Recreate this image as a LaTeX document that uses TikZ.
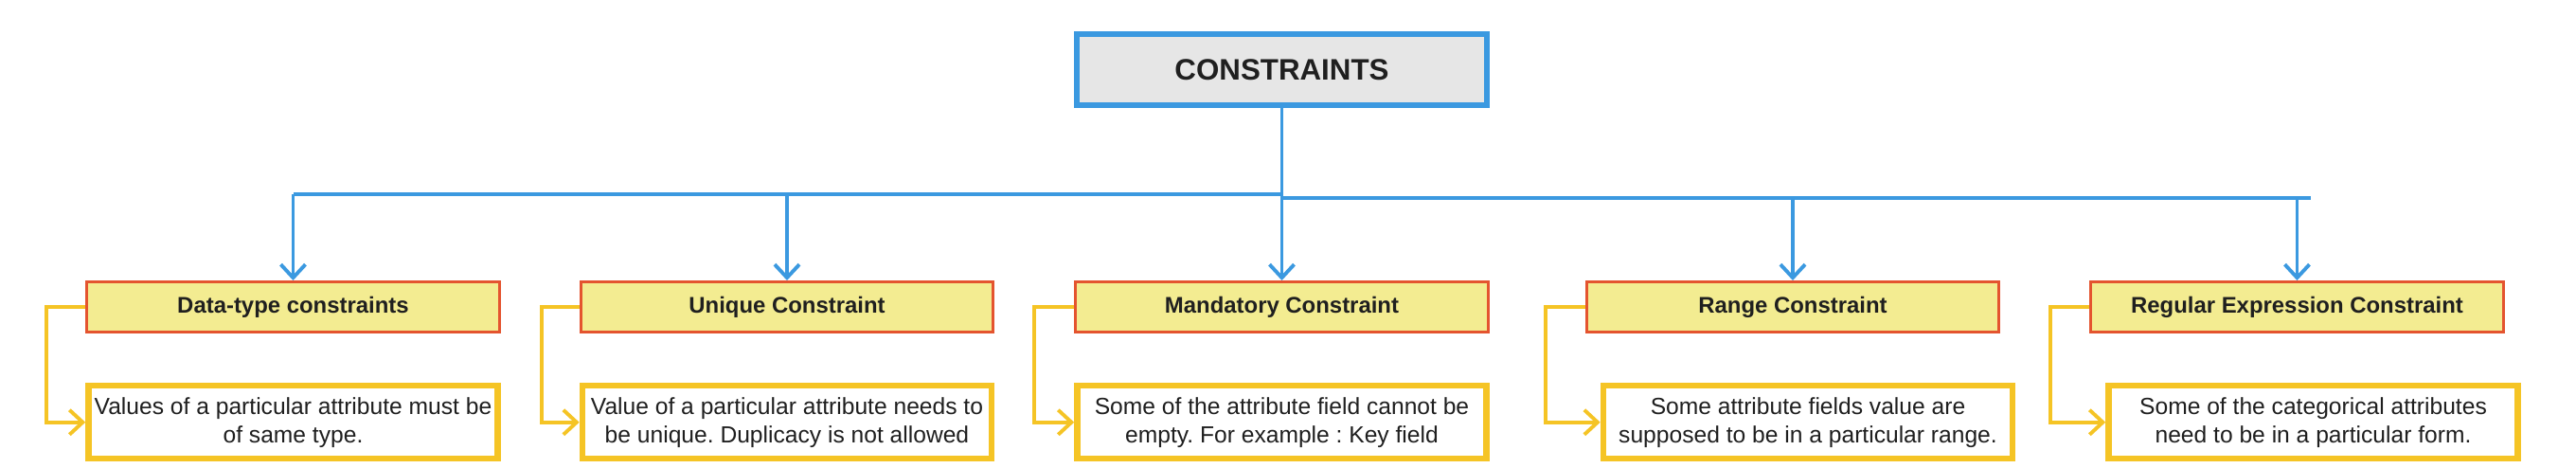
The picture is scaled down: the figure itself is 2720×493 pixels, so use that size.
\documentclass[tikz,border=0pt]{standalone}
\usepackage{fontspec}
\setmainfont{Liberation Sans}
\usepackage{tikz}
\usetikzlibrary{arrows.meta,positioning}
\definecolor{conblue}{HTML}{3B99E0}
\definecolor{congrey}{HTML}{E6E6E6}
\definecolor{conyellow}{HTML}{F3EC91}
\definecolor{conred}{HTML}{E4542F}
\definecolor{congold}{HTML}{F5C425}
\tikzstyle{blueline} = [line width=1.1pt, conblue]
\tikzstyle{bluearrow} = [-{Straight Barb[length=1.4mm,width=2.6mm]}, line width=1.1pt, conblue]
\tikzstyle{goldarrow} = [-{Straight Barb[length=1.4mm,width=2.6mm]}, line width=1.1pt, congold]
\frenchspacing

\begin{document}
\begin{tikzpicture}[x=0.01cm, y=-0.01cm, node distance=0.52cm and 0.83cm,
  rootbox/.style={rectangle, draw=conblue, line width=1.7pt, fill=congrey, minimum width=4.33cm, minimum height=0.75cm, font=\fontsize{8.9}{10}\selectfont\bfseries, text=black!88},
  catbox/.style={rectangle, draw=conred, line width=0.85pt, fill=conyellow, minimum width=4.35cm, minimum height=0.53cm, inner sep=1pt, font=\fontsize{6.8}{8}\selectfont\bfseries, text=black!88},
  descbox/.style={rectangle, draw=congold, line width=1.8pt, fill=white, minimum width=4.32cm, minimum height=0.77cm, inner sep=1pt, align=center, font=\fontsize{7}{8.5}\selectfont, text=black!88}]
\useasboundingbox (0,0) rectangle (2720,493);

\node[rootbox] (root) at (1353.5,73.5) {CONSTRAINTS};

\node[catbox] (dtype) at (309.5,324) {Data-type constraints};
\node[catbox] (uniq) at (831,324) {Unique Constraint};
\node[catbox] (mand) at (1353.5,324) {Mandatory Constraint};
\node[catbox] (range) at (1893,324) {Range Constraint};
\node[catbox] (regex) at (2425.5,324) {Regular Expression Constraint};

\node[descbox, below=of dtype] (dtypetxt) {Values of a particular attribute must be\\of same type.};
\node[descbox, below=of uniq] (uniqtxt) {Value of a particular attribute needs to\\be unique. Duplicacy is not allowed};
\node[descbox, below=of mand] (mandtxt) {Some of the attribute field cannot be\\empty. For example : Key field};
\node[descbox, below=of range, xshift=0.16cm] (rangetxt) {Some attribute fields value are\\supposed to be in a particular range.};
\node[descbox, below=of regex, xshift=0.17cm] (regextxt) {Some of the categorical attributes\\need to be in a particular form.};

\coordinate (split) at (1353.5,205);
\coordinate (railend) at (2440,209);

% tree
\draw[bluearrow] (root.south) -- (mand.north);
\draw[blueline] (dtype.north |- split) -- (split);
\draw[blueline] (split |- railend) -- (railend);
\draw[bluearrow] (dtype.north |- split) -- (dtype.north);
\draw[bluearrow] (uniq.north |- split) -- (uniq.north);
\draw[bluearrow] (range.north |- railend) -- (range.north);
\draw[bluearrow] (regex.north |- railend) -- (regex.north);

% descriptions
\draw[goldarrow] (dtype.west) -- ++(-41,0) |- (dtypetxt.west);
\draw[goldarrow] (uniq.west) -- ++(-40,0) |- (uniqtxt.west);
\draw[goldarrow] (mand.west) -- ++(-42,0) |- (mandtxt.west);
\draw[goldarrow] (range.west) -- ++(-42,0) |- (rangetxt.west);
\draw[goldarrow] (regex.west) -- ++(-41,0) |- (regextxt.west);
\end{tikzpicture}
\end{document}
